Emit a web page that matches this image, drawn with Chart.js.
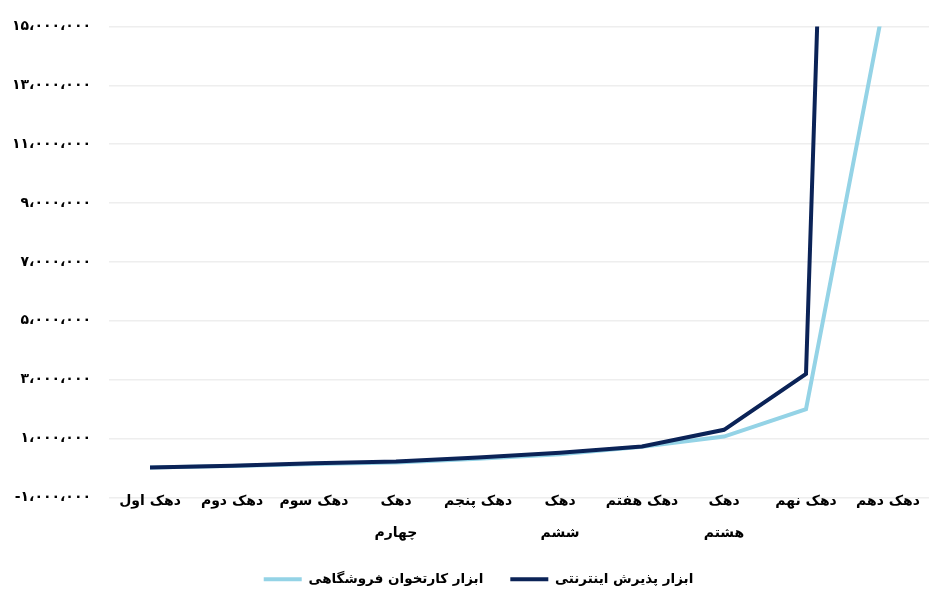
<!DOCTYPE html>
<html lang="fa">
<head>
<meta charset="utf-8">
<script src="https://cdn.jsdelivr.net/npm/chart.js@4"></script>
<style>
    html, body { margin: 0; padding: 0; background: #fff; }
    #wrap { width: 930px; height: 591px; }
</style>
</head>
<body>
<div id="wrap"><canvas id="myChart"></canvas></div>
<script>
// categories (deciles), multi-line where the label wraps in the original
const categories = [
    'دهک اول', 'دهک دوم', 'دهک سوم', ['دهک', 'چهارم'], 'دهک پنجم',
    ['دهک', 'ششم'], 'دهک هفتم', ['دهک', 'هشتم'], 'دهک نهم', 'دهک دهم'
];

const internetValues = [20000, 80000, 160000, 220000, 360000, 520000, 730000, 1300000, 3200000, 90000000];
const storeValues = [20000, 70000, 140000, 190000, 320000, 470000, 720000, 1070000, 2000000, 16500000];

const seriesNames = ['ابزار پذیرش اینترنتی', 'ابزار کارتخوان فروشگاهی'];

const yMin = -1000000;
const yMax = 15000000;
const yStep = 2000000;

function toPersian(n) {
    const digits = '۰۱۲۳۴۵۶۷۸۹';
    let s = Math.abs(n).toString().replace(/\B(?=(\d{3})+(?!\d))/g, '،');
    s = s.replace(/\d/g, d => digits[d]);
    return (n < 0 ? '-' : '') + s;
}

const fontFamily = "'DejaVu Sans', sans-serif";

// nudge the legend a bit right and down, like the original,
// and let the two-line x labels run past the axis box (no clipping)
const layoutTweak = {
    id: 'layoutTweak',
    afterLayout(chart) {
        const lg = chart.legend;
        lg.left += 14;
        lg.right += 14;
        lg.top += 5;
        lg.bottom += 5;
        const x = chart.scales.x;
        x.top -= 10;
        x.bottom = chart.height;
    }
};

new Chart(document.getElementById('myChart'), {
    type: 'line',
    data: {
        labels: categories,
        datasets: [{
                label: seriesNames[0],
                data: internetValues,
                borderColor: '#0b2357',
                backgroundColor: '#0b2357',
                borderWidth: 4,
                pointRadius: 0,
                tension: 0,
                clip: 0
            }, {
                label: seriesNames[1],
                data: storeValues,
                borderColor: '#94d3e6',
                backgroundColor: '#94d3e6',
                borderWidth: 4,
                pointRadius: 0,
                tension: 0,
                clip: 0
            }]
    },
    options: {
        responsive: true,
        maintainAspectRatio: false,
        animation: false,
        layout: {
            padding: { top: 14, right: 1, left: 0, bottom: 0 }
        },
        scales: {
            x: {
                offset: true,
                grid: { display: false, drawTicks: false },
                border: { display: false },
                ticks: {
                    color: '#000',
                    padding: -3,
                    maxRotation: 0,
                    autoSkip: false,
                    font: { family: fontFamily, size: 14, weight: 'bold', lineHeight: 2.35 }
                },
                afterFit: function (scale) {
                    scale.height = 43;
                }
            },
            y: {
                min: yMin,
                max: yMax,
                ticks: {
                    stepSize: yStep,
                    color: '#000',
                    padding: 18,
                    font: { family: fontFamily, size: 14, weight: 'bold' },
                    callback: function (value) {
                        return toPersian(value);
                    }
                },
                grid: {
                    drawTicks: false,
                    lineWidth: 1.5,
                    color: function (ctx) {
                        return ctx.tick && ctx.tick.value === 0 ? '#d4d4d4' : '#eeeeee';
                    }
                },
                border: { display: false },
                afterFit: function (scale) {
                    scale.width = 109;
                }
            }
        },
        plugins: {
            legend: {
                position: 'bottom',
                reverse: true,
                labels: {
                    color: '#000',
                    boxWidth: 38,
                    boxHeight: 4,
                    padding: 27,
                    font: { family: fontFamily, size: 13.5, weight: 'bold' },
                    generateLabels: function (chart) {
                        const items = Chart.defaults.plugins.legend.labels.generateLabels(chart);
                        items.forEach(it => { it.lineWidth = 0; });
                        return items;
                    }
                }
            },
            tooltip: { enabled: false }
        }
    },
    plugins: [layoutTweak]
});
</script>
</body>
</html>
